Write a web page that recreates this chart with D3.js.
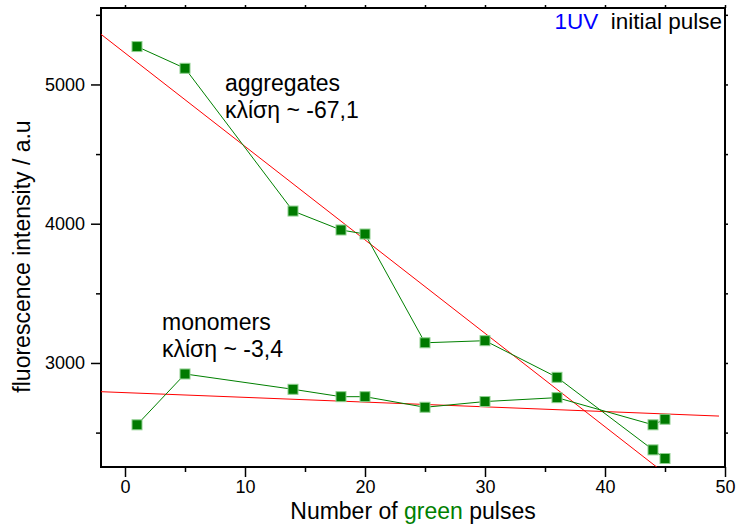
<!DOCTYPE html>
<html>
<head>
<meta charset="utf-8">
<script src="https://cdn.jsdelivr.net/npm/d3@7"></script>
<style>
  html, body { margin: 0; padding: 0; background: #fff; }
  svg { display: block; font-family: "Liberation Sans", Arial, sans-serif; }
</style>
</head>
<body>
<svg id="chart" width="737" height="527"></svg>
<script>
// ---- data ----
const pulses = [1, 5, 14, 18, 20, 25, 30, 36, 44, 45];
const aggregates = [5272, 5116, 4091, 3955, 3926, 3145, 3160, 2897, 2376, 2314];
const monomers = [2556, 2921, 2811, 2758, 2758, 2682, 2723, 2751, 2556, 2596];
const aggFit = { slope: -67.1, intercept: 5226, from: -2, to: 50 };
const monFit = { slope: -3.4, intercept: 2787, from: -2, to: 49.5 };
const xTicks = [0, 10, 20, 30, 40, 50];
const xMinor = [5, 15, 25, 35, 45];
const yTicks = [3000, 4000, 5000];
const yMinor = [2500, 3500, 4500, 5500];
const xDomain = [-2, 50];
const yDomain = [2253, 5549];

// ---- layout ----
const L = 101, R = 725, T = 8, B = 467;
const svg = d3.select("#chart");
const x = d3.scaleLinear().domain(xDomain).range([L, R]);
const y = d3.scaleLinear().domain(yDomain).range([B, T]);

svg.append("defs").append("clipPath").attr("id", "clip")
  .append("rect").attr("x", L).attr("y", T).attr("width", R - L).attr("height", B - T);

const fontAxis = "18px";
const gx = svg.append("g").attr("transform", `translate(0,${B})`)
  .call(d3.axisBottom(x).tickValues(xTicks).tickSize(10).tickPadding(3).tickFormat(d3.format("d")));
const gxm = svg.append("g").attr("transform", `translate(0,${B})`)
  .call(d3.axisBottom(x).tickValues(xMinor).tickSize(5).tickFormat(""));
const gy = svg.append("g").attr("transform", `translate(${L},0)`)
  .call(d3.axisLeft(y).tickValues(yTicks).tickSize(10).tickPadding(6).tickFormat(d3.format("d")));
const gym = svg.append("g").attr("transform", `translate(${L},0)`)
  .call(d3.axisLeft(y).tickValues(yMinor).tickSize(5).tickFormat(""));
const gt = svg.append("g").attr("transform", `translate(0,${T})`)
  .call(d3.axisTop(x).tickValues(xTicks.concat(xMinor)).tickSize(3).tickFormat(""));
const gr = svg.append("g").attr("transform", `translate(${R},0)`)
  .call(d3.axisRight(y).tickValues(yTicks.concat(yMinor)).tickSize(3).tickFormat(""));

[gx, gxm, gy, gym, gt, gr].forEach(g => {
  g.select(".domain").remove();
  g.selectAll(".tick line").attr("stroke", "#000").attr("stroke-width", 1.5);
  g.selectAll(".tick text").attr("fill", "#000").style("font-size", fontAxis)
    .style("font-family", '"Liberation Sans", Arial, sans-serif');
});

svg.append("rect").attr("x", L).attr("y", T).attr("width", R - L).attr("height", B - T)
  .attr("fill", "none").attr("stroke", "#000").attr("stroke-width", 2);

const plot = svg.append("g").attr("clip-path", "url(#clip)");

[aggFit, monFit].forEach(f => {
  plot.append("line")
    .attr("x1", x(f.from)).attr("y1", y(f.intercept + f.slope * f.from))
    .attr("x2", x(f.to)).attr("y2", y(f.intercept + f.slope * f.to))
    .attr("stroke", "#ff0000").attr("stroke-width", 1);
});

const line = d3.line().x((d, i) => x(pulses[i])).y(d => y(d));
[aggregates, monomers].forEach(s => {
  plot.append("path").datum(s).attr("d", line)
    .attr("fill", "none").attr("stroke", "#008000").attr("stroke-width", 1);
});

const ms = 10;
[aggregates, monomers].forEach(s => {
  plot.selectAll(null).data(s).enter().append("rect")
    .attr("x", (d, i) => x(pulses[i]) - ms / 2)
    .attr("y", d => y(d) - ms / 2)
    .attr("width", ms).attr("height", ms)
    .attr("fill", "#007a00").attr("stroke", "#8fd08f").attr("stroke-width", 1);
});

const ann = (tx, ty, lines) => {
  const t = svg.append("text").attr("x", tx).attr("y", ty).style("font-size", "23px").attr("fill", "#000");
  lines.forEach((s, i) => t.append("tspan").attr("x", tx).attr("dy", i === 0 ? 0 : 27).text(s));
};
ann(225, 91, ["aggregates", "κλίση ~ -67,1"]);
ann(162, 330, ["monomers", "κλίση ~ -3,4"]);

const topLabel = svg.append("text").attr("x", 722).attr("y", 29).attr("text-anchor", "end").style("font-size", "22.5px");
topLabel.append("tspan").attr("fill", "#0000ff").text("1UV");
topLabel.append("tspan").attr("fill", "#000").text("\u00a0 initial pulse");

const xt = svg.append("text").attr("x", (L + R) / 2).attr("y", 519).attr("text-anchor", "middle").style("font-size", "23px");
xt.append("tspan").attr("fill", "#000").text("Number of ");
xt.append("tspan").attr("fill", "#008000").text("green");
xt.append("tspan").attr("fill", "#000").text(" pulses");

svg.append("text").attr("transform", `translate(30,${(120 + 393) / 2}) rotate(-90)`)
  .attr("text-anchor", "middle").style("font-size", "23px").attr("fill", "#000")
  .text("fluorescence intensity / a.u");
</script>
</body>
</html>
